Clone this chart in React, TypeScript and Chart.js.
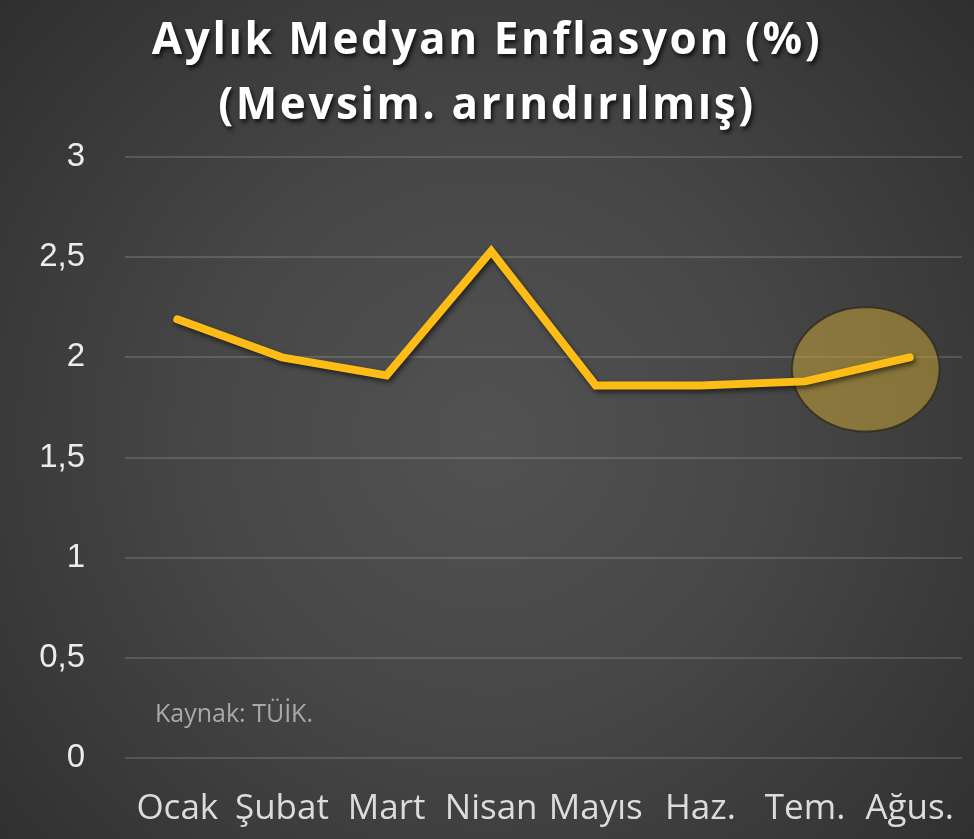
import React, { useEffect, useRef } from "react";
import { Chart, registerables } from "chart.js";

Chart.register(...registerables);

const months = ["Ocak", "Şubat", "Mart", "Nisan", "Mayıs", "Haz.", "Tem.", "Ağus."];
const medianInflation = [2.19, 2.0, 1.91, 2.53, 1.86, 1.86, 1.88, 2.0];
const titleLines = ["Aylık Medyan Enflasyon (%)", "(Mevsim. arındırılmış)"];
const sourceNote = "Kaynak: TÜİK.";
const yMin = 0;
const yMax = 3;
const yStep = 0.5;
// highlight ellipse: between Tem. and Ağus., around this value
const highlightFrom = 6;
const highlightTo = 7;
const highlightValue = 1.94;
const highlightHalfHeight = 0.31;

const W = 974;
const H = 839;

const bgPlugin = {
  id: "bg",
  beforeDraw(chart: any) {
    const { ctx } = chart;
    ctx.save();
    const g = ctx.createRadialGradient(W * 0.5, H * 0.52, 0, W * 0.5, H * 0.52, W * 0.72);
    g.addColorStop(0, "#525252");
    g.addColorStop(0.4, "#474747");
    g.addColorStop(1, "#2c2c2c");
    ctx.fillStyle = g;
    ctx.fillRect(0, 0, W, H);
    ctx.restore();
  },
};

const shadowPlugin = {
  id: "lineShadow",
  beforeDatasetDraw(chart: any) {
    const { ctx } = chart;
    ctx.save();
    ctx.shadowColor = "rgba(0,0,0,0.55)";
    ctx.shadowBlur = 5;
    ctx.shadowOffsetX = 2;
    ctx.shadowOffsetY = 3;
  },
  afterDatasetDraw(chart: any) {
    chart.ctx.restore();
  },
};

const overlayPlugin = {
  id: "overlay",
  beforeDatasetsDraw(chart: any) {
    const { ctx, scales } = chart;
    const x = scales.x;
    const y = scales.y;
    const x0 = x.getPixelForValue(highlightFrom);
    const x1 = x.getPixelForValue(highlightTo);
    const step = x1 - x0;
    const cx = (x0 + x1) / 2 + step * 0.08;
    const cy = y.getPixelForValue(highlightValue);
    const rx = step * 0.705;
    const ry = Math.abs(y.getPixelForValue(highlightValue + highlightHalfHeight) - cy);
    ctx.save();
    ctx.beginPath();
    ctx.ellipse(cx, cy, rx, ry, 0, 0, Math.PI * 2);
    ctx.fillStyle = "rgba(204, 166, 56, 0.52)";
    ctx.fill();
    ctx.lineWidth = 2;
    ctx.strokeStyle = "rgba(45, 42, 30, 0.75)";
    ctx.stroke();
    ctx.restore();
  },
  afterDatasetsDraw(chart: any) {
    const { ctx, scales } = chart;
    const y = scales.y;
    ctx.save();
    ctx.font = "25px 'Open Sans', 'Noto Sans', sans-serif";
    ctx.fillStyle = "#a9a9a9";
    ctx.textAlign = "left";
    ctx.textBaseline = "alphabetic";
    ctx.fillText(sourceNote, chart.chartArea.left + 30, y.getPixelForValue(0.18));
    ctx.restore();
  },
};

const titlePlugin = {
  id: "bigTitle",
  afterDraw(chart: any) {
    const { ctx } = chart;
    ctx.save();
    ctx.font = "bold 44px 'Open Sans', 'Noto Sans', sans-serif";
    ctx.textAlign = "center";
    ctx.textBaseline = "alphabetic";
    ctx.fillStyle = "#ffffff";
    ctx.shadowColor = "rgba(0,0,0,0.75)";
    ctx.shadowBlur = 4;
    ctx.shadowOffsetX = 2;
    ctx.shadowOffsetY = 3;
    try {
      (ctx as any).letterSpacing = "2.6px";
    } catch (e) {}
    const cx = 487;
    ctx.fillText(titleLines[0], cx, 54);
    ctx.fillText(titleLines[1], cx, 119);
    ctx.restore();
  },
};

export default function App() {
  const ref = useRef<HTMLCanvasElement | null>(null);
  useEffect(() => {
    if (!ref.current) return;
    const chart = new Chart(ref.current, {
      type: "line",
      data: {
        labels: months,
        datasets: [
          {
            data: medianInflation,
            borderColor: "#FDBD16",
            borderWidth: 8,
            borderCapStyle: "round",
            borderJoinStyle: "miter",
            pointRadius: 0,
            pointHoverRadius: 0,
            tension: 0,
            fill: false,
          },
        ],
      },
      options: {
        responsive: false,
        animation: false,
        events: [],
        layout: { padding: { top: 157, right: 12, left: 0, bottom: 0 } },
        plugins: {
          legend: { display: false },
          title: { display: false },
          tooltip: { enabled: false },
        },
        scales: {
          x: {
            offset: true,
            grid: { display: false, drawTicks: false },
            border: { display: false },
            ticks: {
              color: "#dcdcdc",
              font: { family: "'Open Sans', 'Noto Sans', sans-serif", size: 35 },
              padding: 30,
              maxRotation: 0,
              autoSkip: false,
            },
            afterFit(scale: any) {
              scale.height = 81;
              scale.paddingLeft = 0;
              scale.paddingRight = 0;
            },
          },
          y: {
            min: yMin,
            max: yMax,
            grid: { color: "rgba(255,255,255,0.14)", lineWidth: 2, drawTicks: false },
            border: { display: false },
            ticks: {
              stepSize: yStep,
              color: "#ececec",
              padding: 40,
              font: { family: "'Liberation Sans', Arial, sans-serif", size: 33 },
              callback: (v: any) => String(v).replace(".", ","),
            },
            afterFit(scale: any) {
              scale.width = 125;
            },
          },
        },
      },
      plugins: [bgPlugin, shadowPlugin, overlayPlugin, titlePlugin],
    });
    return () => chart.destroy();
  }, []);
  return (
    <div style={{ position: "absolute", left: 0, top: 0, width: W, height: H }}>
      <canvas ref={ref} width={W} height={H} style={{ width: W, height: H, display: "block" }} />
    </div>
  );
}
